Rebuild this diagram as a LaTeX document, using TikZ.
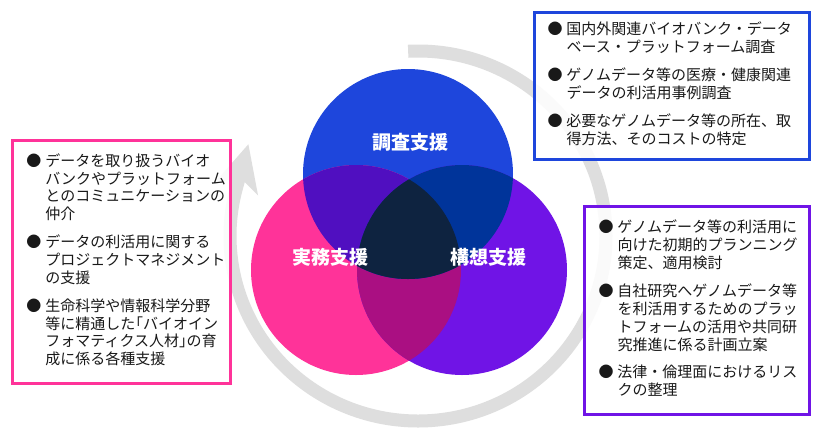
\documentclass[tikz,border=0pt]{standalone}
\usepackage{fontspec}
\setmainfont{Noto Sans CJK JP}
\usetikzlibrary{arrows.meta}
\definecolor{cblue}{HTML}{1E46DC}
\definecolor{cpink}{HTML}{FF3399}
\definecolor{cpurple}{HTML}{7014E6}
\definecolor{cbluepink}{HTML}{500FC0}
\definecolor{cbluepurple}{HTML}{00349A}
\definecolor{cpinkpurple}{HTML}{AA0F82}
\definecolor{ccore}{HTML}{0E2340}
\definecolor{cyclegray}{HTML}{DEDEDE}
\newcommand{\obr}{\makebox[0.5em][r]{「}}
\newcommand{\cbr}{\makebox[0.5em][l]{」}}
\tikzset{
 infobox/.style={draw,line width=3pt,fill=white,fill opacity=0.85,text opacity=1,
             anchor=north west,align=left,inner xsep=13pt,text=black!90,
             font=\fontsize{15}{17.5}\selectfont},
 venn label/.style={text=white,font=\fontsize{19}{19}\selectfont\bfseries},
 cycle arrow/.style={draw=cyclegray,line width=13pt,
             -{Stealth[length=46pt,width=44pt,inset=12pt]}}
}

\begin{document}
\begin{tikzpicture}[x=1pt,y=-1pt]
\useasboundingbox (0,0) rectangle (820,440);
\fill[white] (0,0) rectangle (820,440);
\coordinate (cyc) at (418,236);
\draw[cycle arrow] (cyc) ++(-93:188 and 185) arc[start angle=-93,end angle=195,x radius=188,y radius=185] -- ++(12,-44);
\coordinate (ctop) at (408,174);
\coordinate (cleft) at (356,270);
\coordinate (cright) at (462,270);
\fill[cblue] (ctop) circle (105);
\fill[cpink] (cleft) circle (105);
\fill[cpurple] (cright) circle (105);
\begin{scope}
\clip (cleft) circle (105);
\fill[cpinkpurple] (cright) circle (105);
\end{scope}
\begin{scope}
\clip (ctop) circle (105);
\fill[cbluepink] (cleft) circle (105);
\fill[cbluepurple] (cright) circle (105);
\clip (cleft) circle (105);
\fill[ccore] (cright) circle (105);
\end{scope}
\node[venn label] (chousa) at (410,142) {調査支援};
\node[venn label] (jitsumu) at (330,257) {実務支援};
\node[venn label] (kousou) at (488,257) {構想支援};
\node[infobox,draw=cblue,minimum width=275pt,minimum height=147pt,text width=249pt] (chousabox) at (533,11) {%
\begin{tabular}{@{}l@{\hspace{4pt}}l@{}}
● & 国内外関連バイオバンク・データ\\
  & ベース・プラットフォーム調査\\[10pt]
● & ゲノムデータ等の医療・健康関連\\
  & データの利活用事例調査\\[10pt]
● & 必要なゲノムデータ等の所在、取\\
  & 得方法、そのコストの特定
\end{tabular}};
\node[infobox,draw=cpink,minimum width=217pt,minimum height=243pt,text width=190pt,inner xsep=14pt] (jitsumubox) at (11,139) {%
\begin{tabular}{@{}l@{\hspace{4pt}}l@{}}
● & データを取り扱うバイオ\\
  & バンクやプラットフォーム\\
  & とのコミュニケーションの\\
  & 仲介\\[10pt]
● & データの利活用に関する\\
  & プロジェクトマネジメント\\
  & の支援\\[10pt]
● & 生命科学や情報科学分野\\
  & 等に精通した\obr バイオイン\\
  & フォマティクス人材\cbr の育\\
  & 成に係る各種支援
\end{tabular}};
\node[infobox,draw=cpurple,minimum width=225pt,minimum height=208pt,text width=197pt,inner xsep=14pt] (kousoubox) at (583,205) {%
\begin{tabular}{@{}l@{\hspace{4pt}}l@{}}
● & ゲノムデータ等の利活用に\\
  & 向けた初期的プランニング\\
  & 策定、適用検討\\[10pt]
● & 自社研究へゲノムデータ等\\
  & を利活用するためのプラッ\\
  & トフォームの活用や共同研\\
  & 究推進に係る計画立案\\[10pt]
● & 法律・倫理面におけるリス\\
  & クの整理
\end{tabular}};
\end{tikzpicture}
\end{document}
